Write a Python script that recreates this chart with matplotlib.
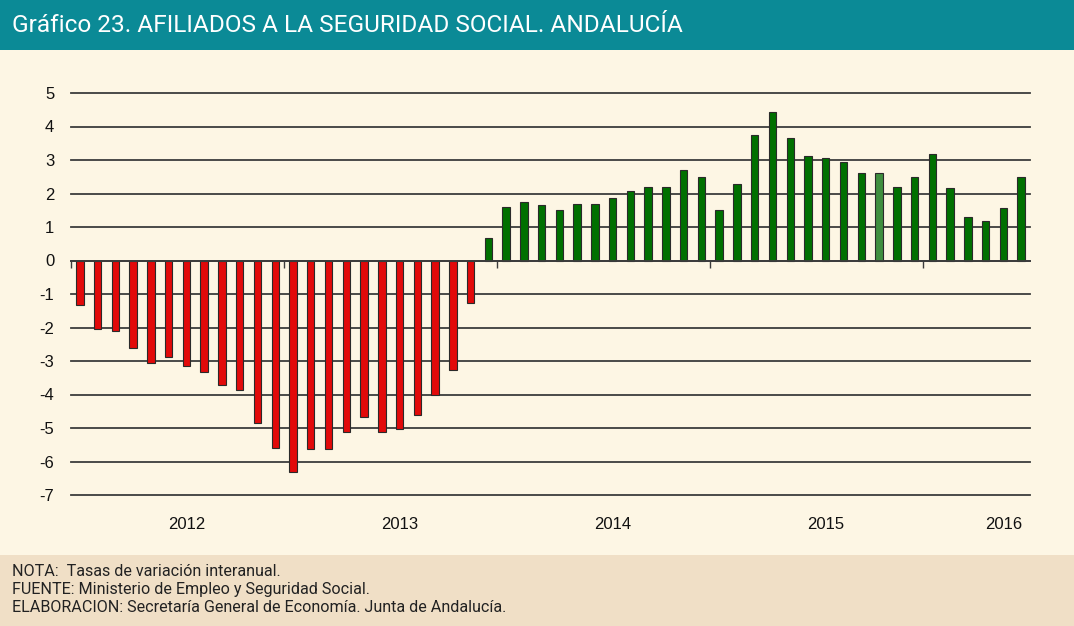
import matplotlib.pyplot as plt
import numpy as np

# monthly year-on-year change (%), Jan 2012 - Jun 2016
afiliados = [
    -1.32, -2.05, -2.10, -2.60, -3.06, -2.87, -3.14, -3.34, -3.73, -3.88, -4.85, -5.59,
    -6.31, -5.63, -5.63, -5.12, -4.67, -5.12, -5.02, -4.62, -4.00, -3.26, -1.28, 0.67,
    1.61, 1.76, 1.65, 1.50, 1.69, 1.69, 1.88, 2.08, 2.20, 2.20, 2.70, 2.48,
    1.50, 2.28, 3.75, 4.42, 3.67, 3.13, 3.05, 2.94, 2.62, 2.62, 2.20, 2.48,
    3.17, 2.16, 1.31, 1.19, 1.57, 2.48,
]
years = ["2012", "2013", "2014", "2015", "2016"]
year_label_pos = [6, 18, 30, 42, 52]
year_bounds = [11.5, 23.5, 35.5, 47.5]
yticks = list(range(5, -8, -1))

teal = "#0b8a96"
cream = "#fdf6e4"
tan = "#f0dfc6"
txt_font = ["Roboto", "DejaVu Sans"]

fig = plt.figure(figsize=(10.74, 6.26), dpi=100)
fig.patch.set_facecolor(cream)

# header and footer bands
fig.add_artist(plt.Rectangle((0, 1 - 50 / 626), 1, 50 / 626, transform=fig.transFigure,
                             facecolor=teal, edgecolor="none", zorder=0))
fig.add_artist(plt.Rectangle((0, 0), 1, 71 / 626, transform=fig.transFigure,
                             facecolor=tan, edgecolor="none", zorder=0))
fig.text(12 / 1074, 1 - 26 / 626, "Gráfico 23. AFILIADOS A LA SEGURIDAD SOCIAL. ANDALUCÍA",
         color="white", fontsize=17.6, family=txt_font, va="center", ha="left")
notes = ["NOTA:  Tasas de variación interanual.",
         "FUENTE: Ministerio de Empleo y Seguridad Social.",
         "ELABORACION: Secretaría General de Economía. Junta de Andalucía."]
for k, line in enumerate(notes):
    fig.text(12 / 1074, 1 - (571 + 18.5 * k) / 626, line, color="#222222", fontsize=11.6,
             family=txt_font, va="center", ha="left")

ax = fig.add_axes([71 / 1074, 1 - 495 / 626, (1030 - 71) / 1074, (495 - 93) / 626])
ax.set_facecolor(cream)

x = np.arange(len(afiliados))
vals = np.array(afiliados)
colors = ["#e20a0a" if v < 0 else "#007000" for v in vals]
colors[45] = "#3f8f3f"
ax.bar(x, vals, width=0.42, color=colors, edgecolor="#2a2a2a", linewidth=0.8, zorder=3)

ax.set_xlim(-0.5, len(afiliados) - 0.5)
ax.set_ylim(-7, 5)
ax.set_yticks(yticks)
ax.set_yticklabels([str(v) for v in yticks])
ax.yaxis.grid(True, color="#3c3c3c", linewidth=1.3, zorder=1)
for gl in ax.get_ygridlines():
    gl.set_clip_on(False)
ax.tick_params(axis="y", length=0, pad=12, labelsize=12, labelcolor="#111111")
for lab in ax.get_yticklabels():
    lab.set_family("Liberation Sans")

for s in ["top", "right", "left"]:
    ax.spines[s].set_visible(False)
ax.spines["bottom"].set_position(("data", 0))
ax.spines["bottom"].set_color("#3c3c3c")
ax.spines["bottom"].set_linewidth(1.3)
ax.spines["bottom"].set_zorder(4)
ax.set_xticks([-0.5] + year_bounds)
ax.set_xticklabels([])
ax.tick_params(axis="x", direction="out", length=5, width=1, color="#3c3c3c")

sec = ax.secondary_xaxis("bottom")
sec.spines["bottom"].set_visible(False)
sec.set_xticks(year_label_pos)
sec.set_xticklabels(years)
sec.tick_params(length=0, pad=16, labelsize=12, labelcolor="#111111")
for lab in sec.get_xticklabels():
    lab.set_family("Liberation Sans")

fig.savefig("out.png", dpi=100, facecolor=fig.get_facecolor())
